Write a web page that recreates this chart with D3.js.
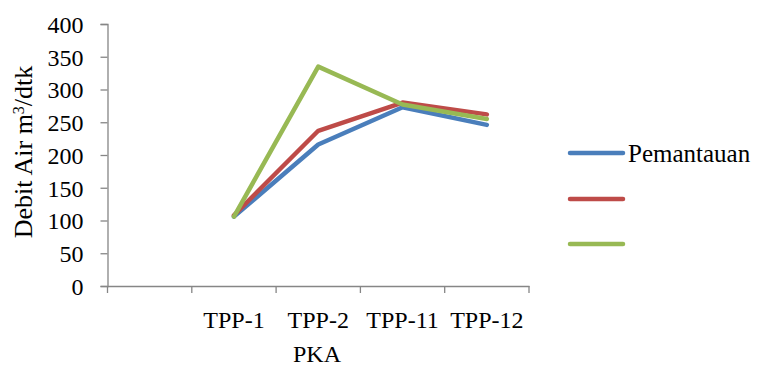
<!DOCTYPE html>
<html><head><meta charset="utf-8">
<script src="https://cdn.jsdelivr.net/npm/d3@7"></script>
<style>html,body{margin:0;padding:0;background:#fff;}</style>
</head><body>
<svg id="c" width="761" height="367"></svg>
<script>
const categories = ["", "TPP-1", "TPP-2", "TPP-11", "TPP-12"];
const seriesNames = ["Pemantauan", "", ""];
const seriesColors = ["#4a7ebb", "#be4b48", "#98b954"];
const blueValues = [null, 106, 216, 273, 246];
const redValues = [null, 108, 237, 280, 262];
const greenValues = [null, 106, 335, 277, 255];
const yTicks = [0, 50, 100, 150, 200, 250, 300, 350, 400];
const series = [blueValues, redValues, greenValues];

const svg = d3.select("#c");
const font = "'Liberation Serif','Times New Roman',serif";
const pLeft = 107.5, pRight = 529, pTop = 24, pBottom = 286;
const x = d3.scaleBand().domain(categories).range([pLeft, pRight]);
const y = d3.scaleLinear().domain([0, 400]).range([pBottom, pTop]);
const axisColor = "#868686";

// y axis
const ya = svg.append("g").attr("transform", `translate(${pLeft},0)`)
  .call(d3.axisLeft(y).tickValues(yTicks).tickSize(7).tickPadding(17));
ya.attr("font-family", font).attr("font-size", 24);
ya.select(".domain").attr("stroke", axisColor).attr("stroke-width", 1.3);
ya.selectAll(".tick line").attr("stroke", axisColor).attr("stroke-width", 1.3);
ya.selectAll(".tick text").style("font-family", font).style("font-size", "24px").attr("fill", "#000").attr("dy", "0.35em");

// x axis
const xa = svg.append("g").attr("transform", `translate(0,${pBottom})`)
  .call(d3.axisBottom(x).tickSize(0).tickPadding(25));
xa.attr("font-family", font).attr("font-size", 24);
xa.select(".domain").attr("stroke", axisColor).attr("stroke-width", 1.3);
xa.selectAll(".tick text").style("font-family", font).style("font-size", "24px").attr("fill", "#000");
const bounds = categories.map(c => x(c)).concat([x(categories[categories.length-1]) + x.bandwidth()]);
xa.selectAll(".bt").data(bounds).enter().append("line")
  .attr("x1", d => d).attr("x2", d => d).attr("y1", 0).attr("y2", 7)
  .attr("stroke", axisColor).attr("stroke-width", 1.3);

// lines
const line = d3.line()
  .defined(d => d.v != null)
  .x(d => x(d.c) + x.bandwidth()/2)
  .y(d => y(d.v));
series.forEach((vals, i) => {
  svg.append("path")
    .datum(categories.map((c, j) => ({c, v: vals[j]})))
    .attr("d", line)
    .attr("fill", "none")
    .attr("stroke", seriesColors[i])
    .attr("stroke-width", 4.5)
    .attr("stroke-linejoin", "round")
    .attr("stroke-linecap", "round");
});

// axis titles
svg.append("text").attr("x", 317).attr("y", 362)
  .attr("text-anchor", "middle").style("font-family", font).style("font-size", "24px")
  .text("PKA");
const yt = svg.append("text")
  .attr("transform", `translate(32,152) rotate(-90)`)
  .attr("text-anchor", "middle").style("font-family", font).style("font-size", "26px");
yt.append("tspan").text("Debit Air m");
yt.append("tspan").attr("baseline-shift", "super").style("font-size", "16px").text("3");
yt.append("tspan").text("/dtk");

// legend
const legY = [153, 199, 244];
series.forEach((vals, i) => {
  svg.append("line").attr("x1", 570).attr("x2", 623).attr("y1", legY[i]).attr("y2", legY[i])
    .attr("stroke", seriesColors[i]).attr("stroke-width", 4.5).attr("stroke-linecap", "round");
  svg.append("text").attr("x", 628).attr("y", legY[i]).attr("dy", "0.35em")
    .style("font-family", font).style("font-size", "25px").text(seriesNames[i]);
});
</script>
</body></html>
